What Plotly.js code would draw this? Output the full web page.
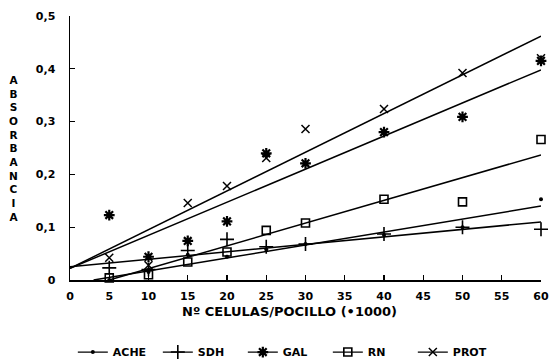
<!DOCTYPE html>
<html>
<head>
<meta charset="utf-8">
<script src="https://cdn.plot.ly/plotly-3.0.1.min.js"></script>
<style>html,body{margin:0;padding:0;background:#fff;}#chart{width:552px;height:360px;}</style>
</head>
<body>
<div id="chart"></div>
<script>
// Cell counts (x1000 per well)
var cells = [5, 10, 15, 20, 25, 30, 40, 50, 60];

// Measured absorbance per series
var ache = [0.000, 0.015, 0.048, 0.044, 0.058, 0.068, 0.085, 0.100, 0.153];
var sdh  = [0.023, 0.020, 0.056, 0.077, 0.063, 0.068, 0.087, 0.100, 0.096];
var gal  = [0.123, 0.044, 0.074, 0.111, 0.240, 0.221, 0.280, 0.309, 0.415];
var rn   = [0.004, 0.010, 0.034, 0.053, 0.094, 0.108, 0.153, 0.148, 0.266];
var prot = [0.042, 0.028, 0.146, 0.178, 0.231, 0.286, 0.324, 0.392, 0.420];

// Fitted straight lines (endpoints)
var acheLineX = [3, 60],  acheLineY = [0.000, 0.140];
var sdhLineX  = [0, 60],  sdhLineY  = [0.025, 0.110];
var galLineX  = [0, 60],  galLineY  = [0.022, 0.398];
var rnLineX   = [5, 60],  rnLineY   = [0.000, 0.237];
var protLineX = [0, 60],  protLineY = [0.022, 0.462];

var names = ['ACHE', 'SDH', 'GAL', 'RN', 'PROT'];
var xTickVals = [0, 5, 10, 15, 20, 25, 30, 35, 40, 45, 50, 55, 60];
var yTickVals = [0, 0.1, 0.2, 0.3, 0.4, 0.5];
var yTickText = ['0', '0,1', '0,2', '0,3', '0,4', '0,5'];
var yTitle = 'ABSORBANCIA';
var xTitle = 'Nº CELULAS/POCILLO (•1000)';

var series = [ache, sdh, gal, rn, prot];
var linesX = [acheLineX, sdhLineX, galLineX, rnLineX, protLineX];
var linesY = [acheLineY, sdhLineY, galLineY, rnLineY, protLineY];
var markers = [
  {symbol: 'circle', size: 4, color: '#000', line: {width: 0}},
  {symbol: 'cross-thin-open', size: 10, color: '#000', line: {width: 1.6, color: '#000'}},
  {symbol: 'asterisk-open', size: 9, color: '#000', line: {width: 2.2, color: '#000'}},
  {symbol: 'square-open', size: 8, color: '#000', line: {width: 1.6, color: '#000'}},
  {symbol: 'x-thin-open', size: 8, color: '#000', line: {width: 1.5, color: '#000'}}
];

var traces = [];
for (var i = 0; i < 5; i++) {
  traces.push({x: linesX[i], y: linesY[i], mode: 'lines', type: 'scatter',
    line: {color: '#000', width: 1.5}, showlegend: false, hoverinfo: 'skip'});
  traces.push({x: cells, y: series[i], mode: 'markers', type: 'scatter',
    marker: markers[i], showlegend: false, cliponaxis: false});
  traces.push({x: [null], y: [null], mode: 'lines+markers', type: 'scatter', name: names[i],
    marker: markers[i], line: {color: '#000', width: 1.3}, showlegend: true});
}

var fam = 'DejaVu Sans, Arial, sans-serif';
var font = {family: fam, color: '#000', size: 11, weight: 'bold'};

var layout = {
  width: 552, height: 360,
  margin: {l: 70, r: 11, t: 16, b: 80, autoexpand: false},
  paper_bgcolor: '#fff', plot_bgcolor: '#fff',
  font: font,
  showlegend: true,
  legend: {orientation: 'h', x: 0.006, xanchor: 'left', y: -0.273, yanchor: 'middle',
    font: {family: fam, size: 11, weight: 'bold', color: '#000'},
    entrywidth: 40, entrywidthmode: 'pixels', itemwidth: 30, bgcolor: 'rgba(0,0,0,0)'},
  xaxis: {range: [0, 60], tickvals: xTickVals, ticks: 'inside', ticklen: 5, tickwidth: 1.2,
    tickcolor: '#000', showline: true, linecolor: '#000', linewidth: 1.5, showgrid: false,
    zeroline: false, automargin: false, ticklabelstandoff: 5,
    tickfont: {family: fam, size: 11, weight: 'bold', color: '#000'}},
  yaxis: {range: [0, 0.5], tickvals: yTickVals, ticktext: yTickText, ticks: 'inside', ticklen: 5,
    tickwidth: 1.2, tickcolor: '#000', showline: true, linecolor: '#000', linewidth: 1.5,
    showgrid: false, zeroline: false, automargin: false, ticklabelstandoff: 11,
    tickfont: {family: fam, size: 11, weight: 'bold', color: '#000'}},
  annotations: [{
    text: yTitle.split('').join('<br>'), xref: 'paper', yref: 'paper',
    x: -0.121, y: 0.788, xanchor: 'center', yanchor: 'top', showarrow: false,
    font: {family: fam, size: 10.5, weight: 'bold', color: '#000'}
  }, {
    text: xTitle, xref: 'paper', yref: 'paper',
    x: 0.467, y: -0.121, xanchor: 'center', yanchor: 'middle', showarrow: false,
    font: {family: fam, size: 13, weight: 'bold', color: '#000'}
  }]
};

Plotly.newPlot('chart', traces, layout, {displayModeBar: false, staticPlot: true});
</script>
</body>
</html>
